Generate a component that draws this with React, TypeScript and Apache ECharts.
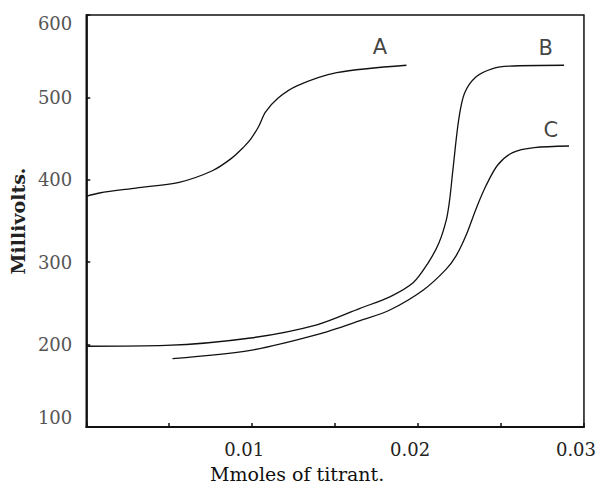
import React, { useEffect, useRef } from "react";
import * as echarts from "echarts";

const curveA: [number, number][] = [
  [0.0, 380], [0.0008, 384], [0.003, 390], [0.0056, 397], [0.0076, 411],
  [0.00875, 426], [0.0095, 440], [0.0099, 449], [0.0104, 465], [0.0108, 482],
  [0.01155, 499], [0.0127, 514], [0.0151, 530], [0.0193, 539],
];
const curveB: [number, number][] = [
  [0.0, 198], [0.0048, 199], [0.0099, 208], [0.0139, 224], [0.0165, 244],
  [0.0183, 258], [0.0197, 275], [0.0206, 299], [0.02125, 323], [0.0217, 351],
  [0.0219, 375], [0.0221, 412], [0.02245, 473], [0.0228, 505], [0.0235, 525],
  [0.0245, 535], [0.0255, 538], [0.0288, 539],
];
const curveC: [number, number][] = [
  [0.0052, 183], [0.0099, 193], [0.0139, 212], [0.0165, 229], [0.0183, 242],
  [0.0203, 266], [0.02167, 291], [0.0223, 308], [0.0229, 333], [0.0235, 365],
  [0.0241, 393], [0.0248, 418], [0.0257, 433], [0.027, 439], [0.0291, 441],
];
const curveLabels = ["A", "B", "C"];
const labelPositions: [number, number][] = [
  [0.0177, 561],
  [0.0277, 560],
  [0.028, 460],
];
const yTicks = [100, 200, 300, 400, 500, 600];
const xLabelTicks = [0.01, 0.02, 0.03];

const serif = "DejaVu Serif";

export default function App() {
  const ref = useRef<HTMLDivElement>(null);
  useEffect(() => {
    if (!ref.current) return;
    const chart = echarts.init(ref.current, undefined, { renderer: "svg" });
    const mkSeries = (data: [number, number][]) => ({
      type: "line",
      data,
      smooth: 0.3,
      showSymbol: false,
      symbol: "none",
      lineStyle: { color: "#111", width: 1.3 },
    });
    chart.setOption({
      animation: false,
      backgroundColor: "#fff",
      grid: {
        left: 86,
        right: 11,
        top: 15,
        bottom: 62,
        show: true,
        borderColor: "#111",
        borderWidth: 1.5,
      },
      xAxis: {
        type: "value",
        min: 0,
        max: 0.03,
        interval: 0.005,
        name: "Mmoles of titrant.",
        nameLocation: "middle",
        nameGap: 37,
        nameTextStyle: {
          fontFamily: serif,
          fontSize: 19,
          color: "#111",
          padding: [0, 76, 0, 0],
        },
        axisLine: { show: true, lineStyle: { color: "#111", width: 1.8 } },
        axisTick: { show: true, inside: true, length: 4, lineStyle: { color: "#111", width: 1.5 } },
        splitLine: { show: false },
        axisLabel: {
          fontFamily: serif,
          fontSize: 18,
          color: "#222",
          margin: 13,
          padding: [0, 16, 0, 0],
          formatter: (v: number) => {
            const hit = xLabelTicks.find((t) => Math.abs(t - v) < 1e-9);
            return hit !== undefined ? hit.toFixed(2) : "";
          },
        },
      },
      yAxis: {
        type: "value",
        min: 100,
        max: 600,
        interval: 100,
        name: "Millivolts.",
        nameLocation: "middle",
        nameGap: 56,
        nameTextStyle: { fontFamily: serif, fontSize: 19, fontWeight: "bold", color: "#222" },
        axisLine: { show: true, lineStyle: { color: "#111", width: 1.8 } },
        axisTick: { show: true, inside: true, length: 4, lineStyle: { color: "#111", width: 1.5 } },
        splitLine: { show: false },
        axisLabel: {
          fontFamily: serif,
          fontSize: 18,
          color: "#555",
          margin: 14,
          formatter: (v: number) => {
            if (!yTicks.includes(v)) return "";
            if (v === 600) return "{top|600}";
            if (v === 100) return "{bot|100}";
            return String(v);
          },
          rich: {
            top: { fontFamily: serif, fontSize: 18, color: "#555", padding: [16, 0, 0, 0] },
            bot: { fontFamily: serif, fontSize: 18, color: "#555", padding: [0, 0, 20, 0] },
          },
        },
      },
      series: [
        mkSeries(curveA),
        mkSeries(curveB),
        mkSeries(curveC),
        {
          type: "scatter",
          data: labelPositions.map((p, i) => ({ value: p, name: curveLabels[i] })),
          symbol: "circle",
          symbolSize: 1,
          itemStyle: { color: "rgba(0,0,0,0)" },
          label: {
            show: true,
            position: "inside",
            formatter: (p: any) => p.name,
            color: "#111",
            fontSize: 21,
            fontFamily: "DejaVu Sans",
          },
          silent: true,
        },
      ],
    });
    return () => chart.dispose();
  }, []);
  return <div ref={ref} style={{ width: 599, height: 489, position: "absolute", left: 0, top: 0 }} />;
}
